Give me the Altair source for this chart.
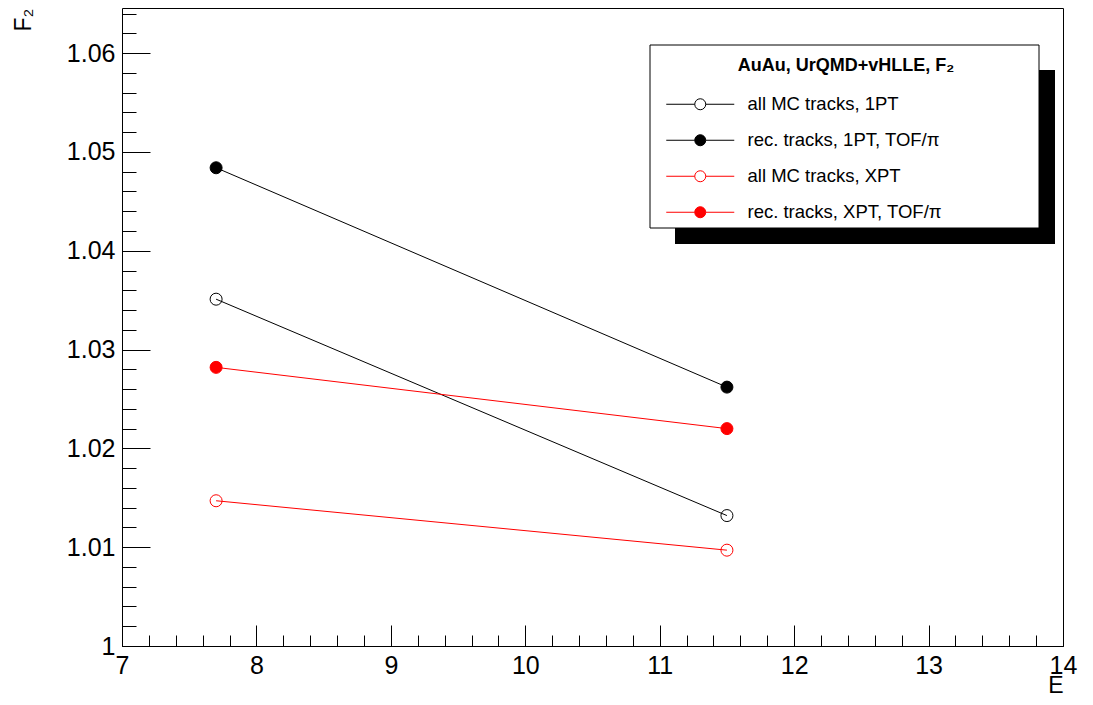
import altair as alt
import pandas as pd

FONT = "Liberation Sans"

# ---- data ----
energies = [7.7, 11.5]
f2_all_mc_1pt = [1.0351, 1.0132]
f2_rec_1pt = [1.0484, 1.0262]
f2_all_mc_xpt = [1.0147, 1.0097]
f2_rec_xpt = [1.0282, 1.0220]

series_names = [
    "all MC tracks, 1PT",
    "rec. tracks, 1PT, TOF/π",
    "all MC tracks, XPT",
    "rec. tracks, XPT, TOF/π",
]
series_stroke = ["#000000", "#000000", "#ff0000", "#ff0000"]
series_fill = ["transparent", "#000000", "transparent", "#ff0000"]

legend_title_text = "AuAu, UrQMD+vHLLE, F₂"
x_title = "E"
y_title = "F₂"

# axis ticks
x_major = [7, 8, 9, 10, 11, 12, 13, 14]
x_minor = [round(7 + 0.2 * i, 1) for i in range(36)]
y_major = [1.00, 1.01, 1.02, 1.03, 1.04, 1.05, 1.06]
y_minor = [round(1 + 0.002 * i, 3) for i in range(33)]

rows = []
for name, vals in zip(series_names, [f2_all_mc_1pt, f2_rec_1pt, f2_all_mc_xpt, f2_rec_xpt]):
    for e, v in zip(energies, vals):
        rows.append({"series": name, "E": e, "F2": v})
df = pd.DataFrame(rows)

W, H = 941, 638

xs = alt.Scale(domain=[7, 14], nice=False, zero=False)
ys = alt.Scale(domain=[1.0, 1.06457], nice=False, zero=False)
stroke_scale = alt.Scale(domain=series_names, range=series_stroke)
fill_scale = alt.Scale(domain=series_names, range=series_fill)

LEG_PATH = "M-6.8,0H-1.1M1.1,0H6.8M1.1,0A1.1,1.1,0,1,1,-1.1,0A1.1,1.1,0,1,1,1.1,0Z"
legend = alt.Legend(
    title=None, orient="none", legendX=569, legendY=87, padding=0,
    symbolType=LEG_PATH, symbolSize=100, symbolStrokeWidth=1,
    labelFont=FONT, labelFontSize=18.5, labelColor="black",
    labelOffset=38, rowPadding=17, labelLimit=400,
)

def tick_axis(orient, offset, values, size):
    return alt.Axis(orient=orient, offset=offset, values=values, labels=False,
                    domain=False, grid=False, ticks=True, tickSize=size,
                    tickColor="black", tickWidth=1, title=None)

ax_x_minor = tick_axis("top", -H, x_minor, 11)
ax_x_major = tick_axis("top", -H, x_major, 21)
ax_y_minor = tick_axis("right", -W, y_minor, 14)
ax_y_major = tick_axis("right", -W, y_major, 28)

ax_x_labels = alt.Axis(
    orient="bottom", values=x_major, ticks=False, tickSize=0, domain=False, grid=False,
    labelFont=FONT, labelFontSize=25, labelColor="black", labelPadding=7,
    labelFlush=False, labelOverlap=False, format="d",
    title=x_title, titleFont=FONT, titleFontSize=23, titleFontWeight="normal",
    titleColor="black", titleAnchor="end", titleAlign="right", titleBaseline="alphabetic",
    titleX=W, titleY=46,
)
ax_y_labels = alt.Axis(
    orient="left", values=y_major, ticks=False, tickSize=0, domain=False, grid=False,
    labelFont=FONT, labelFontSize=25, labelColor="black", labelPadding=7,
    labelFlush=False, labelOverlap=False,
    labelExpr="datum.value == 1 ? '1' : format(datum.value, '.2f')",
    title=y_title, titleFont=FONT, titleFontSize=23, titleFontWeight="normal",
    titleColor="black", titleAngle=270, titleAlign="right", titleBaseline="alphabetic",
    titleX=-92, titleY=0,
)

base = alt.Chart(df)

lines = base.mark_line(strokeWidth=1).encode(
    x=alt.X("E:Q", scale=xs, axis=ax_x_minor),
    y=alt.Y("F2:Q", scale=ys, axis=ax_y_minor),
    stroke=alt.Stroke("series:N", scale=stroke_scale, legend=legend, sort=series_names),
)

points = base.mark_point(shape="circle", size=144, strokeWidth=1, opacity=1, filled=True).encode(
    x=alt.X("E:Q", scale=xs, axis=ax_x_major),
    y=alt.Y("F2:Q", scale=ys, axis=ax_y_major),
    stroke=alt.Stroke("series:N", scale=stroke_scale, legend=legend, sort=series_names),
    fill=alt.Fill("series:N", scale=fill_scale, legend=legend, sort=series_names),
)

ghost = base.mark_point(opacity=0).encode(
    x=alt.X("E:Q", scale=xs, axis=ax_x_labels),
    y=alt.Y("F2:Q", scale=ys, axis=ax_y_labels),
)

deco = alt.Data(values=[{"k": 0}])
shadow = alt.Chart(deco).mark_rect(fill="black").encode(
    x=alt.value(553), x2=alt.value(933), y=alt.value(62), y2=alt.value(236)
)
box = alt.Chart(deco).mark_rect(fill="white", stroke="black", strokeWidth=1).encode(
    x=alt.value(528), x2=alt.value(917), y=alt.value(37), y2=alt.value(220)
)
leg_title = alt.Chart(deco).mark_text(
    text=legend_title_text, font=FONT, fontSize=18, fontWeight="bold",
    align="center", baseline="alphabetic", color="black",
).encode(x=alt.value(724), y=alt.value(63))

chart = alt.layer(lines, points, ghost, shadow, box, leg_title).resolve_axis(
    x="independent", y="independent"
).properties(
    width=W, height=H,
    padding={"left": 114, "top": 0, "right": 22, "bottom": 51},
    autosize=alt.AutoSizeParams(type="none"),
    background="white",
).configure_view(stroke="black", strokeWidth=1)

chart.save("out.html", embed_options={"renderer": "svg", "actions": False})
